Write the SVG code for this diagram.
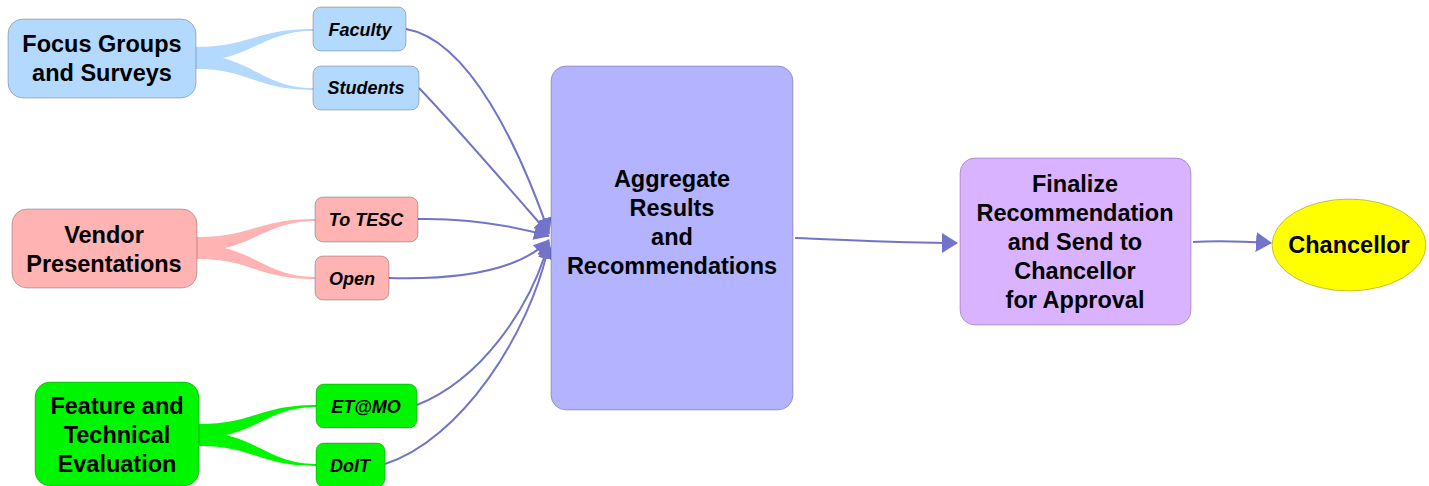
<svg xmlns="http://www.w3.org/2000/svg" width="1429" height="486" viewBox="0 0 1429 486">
<defs>
<marker id="ah" viewBox="0 0 16 16" refX="15" refY="8" markerWidth="16" markerHeight="16" markerUnits="userSpaceOnUse" orient="auto">
<path d="M0,0 L16,8 L0,16 Z" fill="#7373c9"/>
</marker>
<marker id="ahb" viewBox="0 0 16 20" refX="15" refY="10" markerWidth="16" markerHeight="20" markerUnits="userSpaceOnUse" orient="auto">
<path d="M0,0 L16,10 L0,20 Z" fill="#7373c9"/>
</marker>
<style>
.big{font-family:"Liberation Sans",Arial,sans-serif;font-weight:bold;font-size:23.5px;fill:#000;text-anchor:middle}
.sm{font-family:"Liberation Sans",Arial,sans-serif;font-weight:bold;font-style:italic;font-size:18px;fill:#000;text-anchor:middle}
.nd{stroke:#000;stroke-opacity:0.25;stroke-width:1}
.blue{fill:#b3d9ff}
.pink{fill:#ffb3b3}
.green{fill:#00f500}
.conn{fill:none;stroke:#7373c9;stroke-width:2}
</style>
</defs>
<rect width="1429" height="486" fill="#fff"/>
<g id="branches">
<path d="M196,47 C250,47 255,29 313,29 L313,31 C262,31 250,61 196,61 Z" class="blue"/>
<path d="M196,55 C250,55 262,88 313,88 L313,90 C255,90 250,69 196,69 Z" class="blue"/>
<path d="M197,237 C252,237 258,219 315,219 L315,221 C264,221 252,251 197,251 Z" class="pink"/>
<path d="M197,245 C252,245 264,277 315,277 L315,279 C257,279 252,259 197,259 Z" class="pink"/>
<path d="M199,424 C254,424 260,405 316,405 L316,407 C266,407 254,438 199,438 Z" class="green"/>
<path d="M199,432 C254,432 266,464 316,464 L316,466 C259,466 254,446 199,446 Z" class="green"/>
</g>
<g id="connectors">
<path class="conn" d="M406,29 C470,40 520,150 549,233" marker-end="url(#ah)"/>
<path class="conn" d="M419,88 C450,120 515,195 549,234" marker-end="url(#ah)"/>
<path class="conn" d="M418,219 C470,218 510,225 549,236" marker-end="url(#ah)"/>
<path class="conn" d="M389,278 C460,280 520,270 549,240" marker-end="url(#ah)"/>
<path class="conn" d="M417,405 C480,380 530,310 549,242" marker-end="url(#ah)"/>
<path class="conn" d="M385,464 C460,440 530,335 549,244" marker-end="url(#ah)"/>
<path class="conn" d="M795,238 C850,240 900,243 957,243" marker-end="url(#ahb)"/>
<path class="conn" d="M1193,242 C1220,240 1240,241 1271,243" marker-end="url(#ahb)"/>
</g>
<g id="focus-groups">
<rect class="nd blue" x="8" y="19" width="188" height="79" rx="15"/>
<text class="big" x="102" y="52">Focus Groups</text>
<text class="big" x="102" y="81">and Surveys</text>
</g>
<g id="faculty">
<rect class="nd blue" x="313" y="7" width="93" height="44" rx="8"/>
<text class="sm" x="360" y="36">Faculty</text>
</g>
<g id="students">
<rect class="nd blue" x="313" y="66" width="106" height="44" rx="8"/>
<text class="sm" x="366" y="94">Students</text>
</g>
<g id="vendor">
<rect class="nd pink" x="12" y="209" width="185" height="79" rx="15"/>
<text class="big" x="104" y="243">Vendor</text>
<text class="big" x="104" y="272">Presentations</text>
</g>
<g id="to-tesc">
<rect class="nd pink" x="315" y="197" width="103" height="45" rx="8"/>
<text class="sm" x="366" y="226">To TESC</text>
</g>
<g id="open">
<rect class="nd pink" x="315" y="256" width="74" height="44" rx="8"/>
<text class="sm" x="352" y="285">Open</text>
</g>
<g id="feature">
<rect class="nd green" x="35" y="382" width="164" height="104" rx="15"/>
<text class="big" x="117" y="414">Feature and</text>
<text class="big" x="117" y="443">Technical</text>
<text class="big" x="117" y="472">Evaluation</text>
</g>
<g id="etmo">
<rect class="nd green" x="316" y="384" width="101" height="44" rx="8"/>
<text class="sm" x="366" y="413">ET@MO</text>
</g>
<g id="doit">
<rect class="nd green" x="316" y="443" width="69" height="44" rx="8"/>
<text class="sm" x="350" y="472">DoIT</text>
</g>
<g id="aggregate">
<rect class="nd" fill="#b3b3ff" x="551" y="66" width="242" height="344" rx="15"/>
<text class="big" x="672" y="187">Aggregate</text>
<text class="big" x="672" y="216">Results</text>
<text class="big" x="672" y="245">and</text>
<text class="big" x="672" y="274">Recommendations</text>
</g>
<g id="finalize">
<rect class="nd" fill="#d9b3ff" x="960" y="158" width="231" height="167" rx="15"/>
<text class="big" x="1075" y="192">Finalize</text>
<text class="big" x="1075" y="221">Recommendation</text>
<text class="big" x="1075" y="250">and Send to</text>
<text class="big" x="1075" y="279">Chancellor</text>
<text class="big" x="1075" y="308">for Approval</text>
</g>
<g id="chancellor">
<ellipse class="nd" fill="#ffff00" cx="1349" cy="245" rx="77" ry="46"/>
<text class="big" x="1349" y="253">Chancellor</text>
</g>
</svg>
